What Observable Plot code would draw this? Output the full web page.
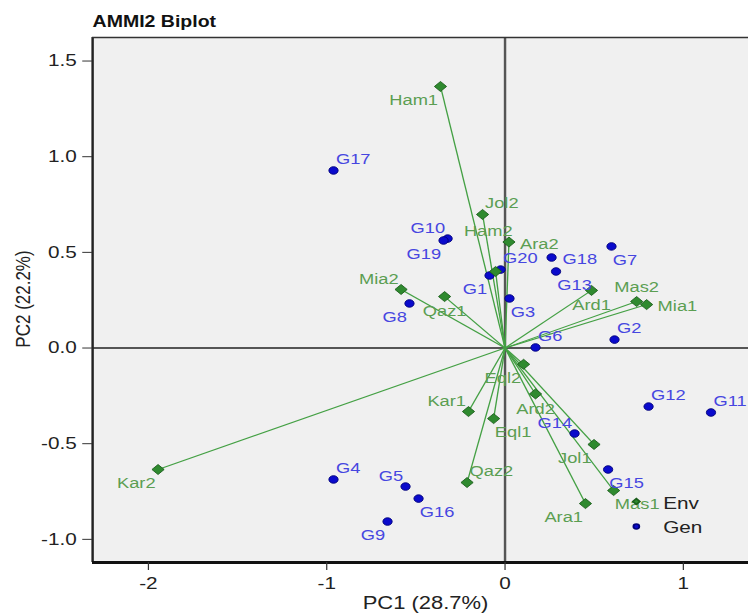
<!DOCTYPE html>
<html>
<head>
<meta charset="utf-8">
<script src="https://cdn.jsdelivr.net/npm/d3@7"></script>
<script src="https://cdn.jsdelivr.net/npm/@observablehq/plot@0.6"></script>
<style>
  html, body { margin: 0; padding: 0; background: #ffffff; }
  #chart { width: 748px; height: 613px; overflow: hidden; }
</style>
</head>
<body>
<div id="chart"></div>
<script>
// ---- Data ----
const envNames = ["Ham1","Jol2","Ham2","Ara2","Mia2","Qaz1","Ard1","Mas2","Mia1","Eql2","Ard2","Kar1","Eql1","Jol1","Qaz2","Mas1","Ara1","Kar2"];
const envPC1 = [-0.362,-0.126,-0.053,0.022,-0.583,-0.339,0.485,0.738,0.794,0.104,0.171,-0.205,-0.064,0.499,-0.213,0.609,0.451,-1.946];
const envPC2 = [1.367,0.698,0.400,0.554,0.306,0.269,0.301,0.243,0.227,-0.085,-0.240,-0.332,-0.369,-0.504,-0.703,-0.745,-0.813,-0.635];
const envLabelPos = ["SW","NE","NN","E","NW","S","S","N","E","SW","S","NW","SE","SW","NE","SE","SW","SW"];

const genNames = ["G1","G2","G3","G4","G5","G6","G7","G8","G9","G10","G11","G12","G13","G14","G15","G16","G17","G18","G19","G20"];
const genPC1 = [-0.087,0.614,0.025,-0.962,-0.558,0.171,0.597,-0.536,-0.659,-0.322,1.155,0.805,0.286,0.390,0.578,-0.485,-0.962,0.261,-0.345,-0.025];
const genPC2 = [0.379,0.044,0.259,-0.687,-0.724,0.003,0.531,0.233,-0.907,0.572,-0.337,-0.306,0.400,-0.447,-0.635,-0.787,0.928,0.473,0.562,0.410];
const genLabelPos = ["SW","NE","SE","NE","NW","NE","SE","SW","SW","NW","NE","NE","SE","NW","SE","SE","NE","E","SW","NE"];

const xTicks = [-2, -1, 0, 1];
const yTicks = [-1.0, -0.5, 0.0, 0.5, 1.0, 1.5];
const xDomain = [-2.313, 1.366];
const yDomain = [-1.121, 1.623];

const titleText = "AMMI2 Biplot";
const xTitle = "PC1 (28.7%)";
const yTitle = "PC2 (22.2%)";
const legendItems = ["Env", "Gen"];

// ---- Build tables ----
const env = envNames.map((name, i) => ({name, x: envPC1[i], y: envPC2[i], pos: envLabelPos[i]}));
const gen = genNames.map((name, i) => ({name, x: genPC1[i], y: genPC2[i], pos: genLabelPos[i]}));

// label placement styles (like R's pos argument)
const posStyle = {
  NE: {textAnchor: "start",  dx: 2,  dy: -11},
  NW: {textAnchor: "end",    dx: -2, dy: -10},
  SE: {textAnchor: "start",  dx: 1,  dy: 14},
  SW: {textAnchor: "end",    dx: -2, dy: 14},
  N:  {textAnchor: "middle", dx: 0,  dy: -14},
  NN: {textAnchor: "middle", dx: -6, dy: -40},
  S:  {textAnchor: "middle", dx: 0,  dy: 15},
  E:  {textAnchor: "start",  dx: 9,  dy: 2},
  W:  {textAnchor: "end",    dx: -9, dy: 2}
};

const envLine = "#44a044";
const envFill = "#2f8a2f";
const envStroke = "#1b5e1b";
const envText = "#5b9e52";
const genFill = "#0a0acc";
const genStroke = "#00007a";
const genText = "#4646e0";

function labelMarks(rows, fill) {
  return Object.entries(posStyle).map(([code, s]) =>
    Plot.text(rows.filter(d => d.pos === code), {
      x: "x", y: "y", text: "name", fill, fontSize: 15, lineAnchor: "middle", ...s
    })
  );
}

const W = 613; // drawn width; page stretches it horizontally like the reference
const svg = Plot.plot({
  width: W,
  height: 613,
  marginLeft: 75.4,
  marginRight: 0,
  marginTop: 37,
  marginBottom: 51,
  style: {fontFamily: "Arial, 'Liberation Sans', Helvetica, sans-serif", fontSize: "17px", background: "#ffffff"},
  x: {domain: xDomain, label: null},
  y: {domain: yDomain, label: null},
  marks: [
    Plot.frame({fill: "#f0f0f0", stroke: null}),
    // zero reference lines
    Plot.ruleX([0], {stroke: "#555", strokeWidth: 2}),
    Plot.ruleY([0], {stroke: "#555", strokeWidth: 2}),
    // environment vectors
    Plot.link(env, {x1: 0, y1: 0, x2: "x", y2: "y", stroke: envLine, strokeWidth: 1.1}),
    // genotypes
    Plot.dot(gen, {x: "x", y: "y", r: 3.8, fill: genFill, stroke: genStroke, strokeWidth: 0.8}),
    // environments
    Plot.dot(env, {x: "x", y: "y", r: 4.5, symbol: "diamond2", fill: envFill, stroke: envStroke, strokeWidth: 0.8}),
    ...labelMarks(gen, genText),
    ...labelMarks(env, envText),
    // frame borders
    Plot.ruleX([xDomain[0]], {stroke: "#222", strokeWidth: 2}),
    Plot.ruleY([yDomain[1]], {stroke: "#333", strokeWidth: 1.5}),
    Plot.ruleY([yDomain[0]], {stroke: "#111", strokeWidth: 3}),
    // axes
    Plot.axisX({ticks: xTicks, tickFormat: d => String(d), tickSize: 8, tickPadding: 6, fontSize: 17, stroke: "#333", fill: "#222", label: null}),
    Plot.axisY({ticks: yTicks, tickFormat: d => d.toFixed(1), tickSize: 8, tickPadding: 5, fontSize: 17, stroke: "#333", fill: "#222", label: null}),
    // titles
    Plot.text([titleText], {frameAnchor: "top-left", textAnchor: "start", lineAnchor: "middle", dy: -16, fontSize: 16, fontWeight: "bold", fill: "#111"}),
    Plot.text([xTitle], {frameAnchor: "bottom", textAnchor: "middle", lineAnchor: "middle", dx: 4, dy: 41, fontSize: 18, fill: "#222"}),
    Plot.text([yTitle], {frameAnchor: "left", textAnchor: "middle", lineAnchor: "middle", dx: -57, dy: -1, rotate: -90, fontSize: 17, fill: "#222"}),
    // legend
    Plot.dot([legendItems[0]], {frameAnchor: "bottom-right", dx: -92, dy: -61, r: 2.6, symbol: "diamond2", fill: envFill, stroke: envStroke}),
    Plot.dot([legendItems[1]], {frameAnchor: "bottom-right", dx: -92, dy: -36, r: 2.4, fill: genFill, stroke: genStroke}),
    Plot.text([legendItems[0]], {frameAnchor: "bottom-right", text: d => d, textAnchor: "start", lineAnchor: "middle", dx: -70, dy: -59, fontSize: 17, fill: "#222"}),
    Plot.text([legendItems[1]], {frameAnchor: "bottom-right", text: d => d, textAnchor: "start", lineAnchor: "middle", dx: -70, dy: -35, fontSize: 17, fill: "#222"})
  ]
});

// Reference image is horizontally stretched (613 -> 748); reproduce that.
svg.setAttribute("width", 748);
svg.setAttribute("height", 613);
svg.setAttribute("preserveAspectRatio", "none");
svg.style.maxWidth = "none";
svg.style.width = "748px";
svg.style.height = "613px";
document.getElementById("chart").appendChild(svg);
</script>
</body>
</html>
